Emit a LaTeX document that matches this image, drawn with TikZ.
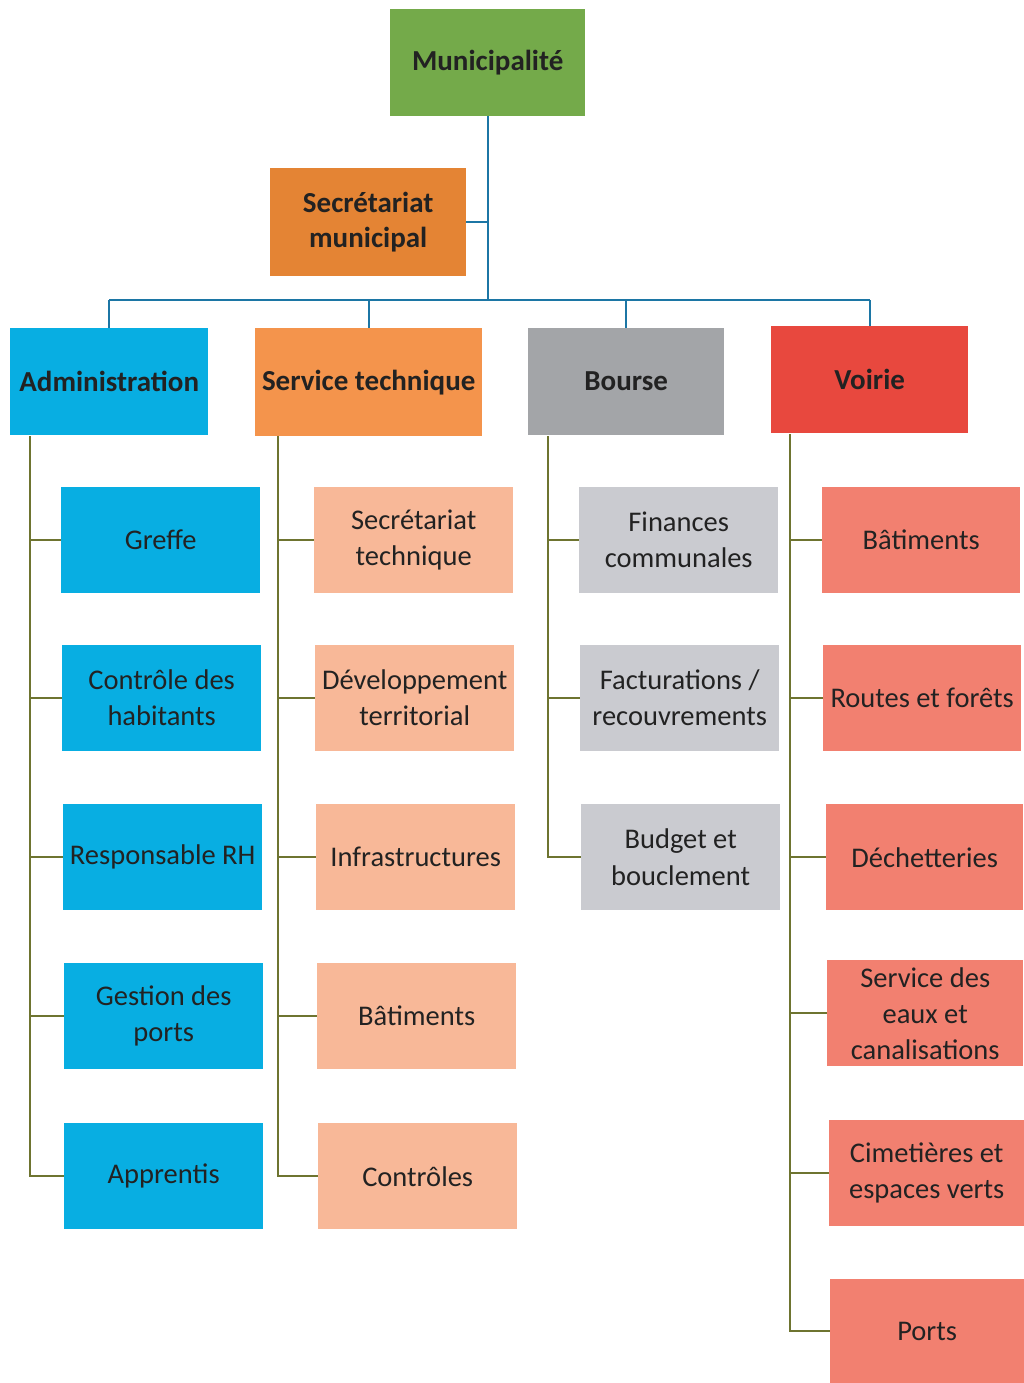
\documentclass[tikz,border=0pt]{standalone}
\usepackage{fontspec}
\setmainfont{Carlito}
\definecolor{cgreen}{RGB}{116,170,74}
\definecolor{corangeD}{RGB}{228,132,52}
\definecolor{cblue}{RGB}{8,174,226}
\definecolor{corange}{RGB}{244,148,76}
\definecolor{cgray}{RGB}{163,165,168}
\definecolor{cred}{RGB}{232,72,62}
\definecolor{csalmon}{RGB}{248,184,152}
\definecolor{clgray}{RGB}{202,203,208}
\definecolor{cpink}{RGB}{242,128,112}
\definecolor{ctxt}{RGB}{34,34,34}
\definecolor{ctop}{RGB}{28,118,165}
\definecolor{cspine}{RGB}{110,116,48}
\begin{document}
\begin{tikzpicture}[x=1pt,y=-1pt,
  basebox/.style={draw=none,inner sep=0pt,align=center,text=ctxt,anchor=north west},
  headbox/.style={basebox,font=\fontsize{29}{35}\selectfont\bfseries,minimum height=107pt},
  childbox/.style={basebox,font=\fontsize{28.5}{36}\selectfont,minimum width=199pt,minimum height=106pt},
  topline/.style={draw=ctop,line width=1.6pt},
  spine/.style={draw=cspine,line width=1.6pt}]
\useasboundingbox (0,0) rectangle (1023,1383);
\fill[white] (0,0) rectangle (1023,1383);
% top level
\node[headbox,fill=cgreen,minimum width=195pt] (mun) at (390,9) {Municipalité};
\node[headbox,fill=corangeD,minimum width=196pt,minimum height=108pt] (secm) at (270,168) {Secrétariat\\municipal};
\node[headbox,fill=cblue,minimum width=198pt] (adm) at (10,328) {Administration};
\node[headbox,fill=corange,minimum width=227pt,minimum height=108pt] (st) at (255,328) {Service technique};
\node[headbox,fill=cgray,minimum width=196pt] (bou) at (528,328) {Bourse};
\node[headbox,fill=cred,minimum width=197pt] (voi) at (771,326) {Voirie};
% Administration children
\node[childbox,fill=cblue] (a1) at (61,487) {Greffe};
\node[childbox,fill=cblue] (a2) at (62,645) {Contrôle des\\habitants};
\node[childbox,fill=cblue] (a3) at (63,804) {Responsable RH};
\node[childbox,fill=cblue] (a4) at (64,963) {Gestion des\\ports};
\node[childbox,fill=cblue] (a5) at (64,1123) {Apprentis};
% Service technique children
\node[childbox,fill=csalmon] (s1) at (314,487) {Secrétariat\\technique};
\node[childbox,fill=csalmon] (s2) at (315,645) {Développement\\territorial};
\node[childbox,fill=csalmon] (s3) at (316,804) {Infrastructures};
\node[childbox,fill=csalmon] (s4) at (317,963) {Bâtiments};
\node[childbox,fill=csalmon] (s5) at (318,1123) {Contrôles};
% Bourse children
\node[childbox,fill=clgray] (b1) at (579,487) {Finances\\communales};
\node[childbox,fill=clgray] (b2) at (580,645) {Facturations /\\recouvrements};
\node[childbox,fill=clgray] (b3) at (581,804) {Budget et\\bouclement};
% Voirie children
\node[childbox,fill=cpink,minimum width=198pt] (v1) at (822,487) {Bâtiments};
\node[childbox,fill=cpink,minimum width=198pt] (v2) at (823,645) {Routes et forêts};
\node[childbox,fill=cpink,minimum width=197pt] (v3) at (826,804) {Déchetteries};
\node[childbox,fill=cpink,minimum width=196pt] (v4) at (827,960) {Service des\\eaux et\\canalisations};
\node[childbox,fill=cpink,minimum width=195pt] (v5) at (829,1120) {Cimetières et\\espaces verts};
\node[childbox,fill=cpink,minimum width=194pt,minimum height=104pt] (v6) at (830,1279) {Ports};
% top connectors
\coordinate (bus) at (488,300);
\draw[topline] (mun.south) -- (mun.south |- bus);
\draw[topline] (secm.east) -- (secm.east -| mun.south);
\draw[topline] (adm.north |- bus) -- (voi.north |- bus);
\draw[topline] (adm.north |- bus) -- (adm.north);
\draw[topline] (st.north |- bus) -- (st.north);
\draw[topline] (bou.north |- bus) -- (bou.north);
\draw[topline] (voi.north |- bus) -- (voi.north);
% spines
\coordinate (as) at (30,436);
\coordinate (ss) at (278,436);
\coordinate (bs) at (548,436);
\coordinate (vs) at (790,434);
\draw[spine] (as) |- (a5.west);
\foreach \c in {a1,a2,a3,a4} \draw[spine] (as |- \c.west) -- (\c.west);
\draw[spine] (ss) |- (s5.west);
\foreach \c in {s1,s2,s3,s4} \draw[spine] (ss |- \c.west) -- (\c.west);
\draw[spine] (bs) |- (b3.west);
\foreach \c in {b1,b2} \draw[spine] (bs |- \c.west) -- (\c.west);
\draw[spine] (vs) |- (v6.west);
\foreach \c in {v1,v2,v3,v4,v5} \draw[spine] (vs |- \c.west) -- (\c.west);
\end{tikzpicture}
\end{document}
